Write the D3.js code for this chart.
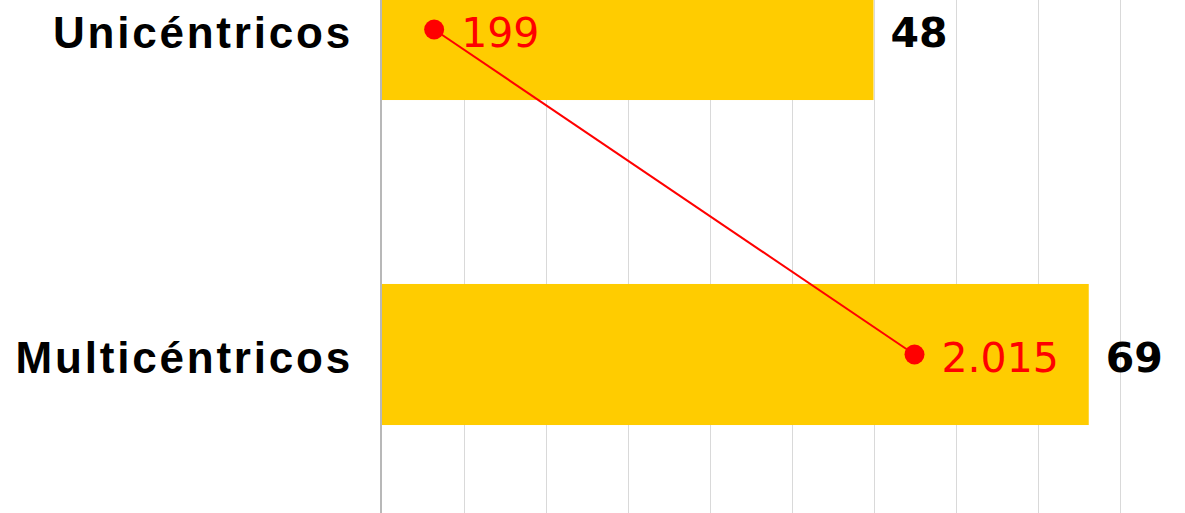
<!DOCTYPE html>
<html>
<head>
<meta charset="utf-8">
<script src="https://cdn.jsdelivr.net/npm/d3@7"></script>
<style>
  html, body { margin: 0; padding: 0; background: #ffffff; }
  svg { display: block; }
</style>
</head>
<body>
<svg id="chart" width="1185" height="513"></svg>
<script>
// Study counts by design (bars) and participants (red line)
const categories = ["Unicéntricos", "Multicéntricos"];
const studies = [48, 69];
const participants = [199, 2015];
const participantLabels = ["199", "2.015"];
const gridTicks = [0, 8, 16, 24, 32, 40, 48, 56, 64, 72, 80];

const W = 1185, H = 513;
const svg = d3.select("#chart");

const x = d3.scaleLinear().domain([0, 80]).range([381.5, 1201.5]);
const x2 = d3.scaleLinear().domain([0, 3100]).range([381.5, 1201.5]);
const y = d3.scaleBand()
  .domain(categories)
  .range([-133, 517])
  .paddingInner(0.566)
  .paddingOuter(0.283);
const mid = c => y(c) + y.bandwidth() / 2;

// vertical gridlines
svg.append("g")
  .selectAll("line")
  .data(gridTicks.filter(t => t > 0))
  .join("line")
  .attr("x1", d => Math.round(x(d)) + 0.5)
  .attr("x2", d => Math.round(x(d)) + 0.5)
  .attr("y1", 0)
  .attr("y2", H)
  .attr("stroke", "#d9d9d9")
  .attr("stroke-width", 1);

// bars
svg.append("g")
  .selectAll("rect")
  .data(categories)
  .join("rect")
  .attr("x", x(0))
  .attr("y", d => y(d))
  .attr("width", (d, i) => x(studies[i]) - x(0))
  .attr("height", y.bandwidth())
  .attr("fill", "#ffcc00");

// category axis line
svg.append("line")
  .attr("x1", 381).attr("x2", 381)
  .attr("y1", 0).attr("y2", H)
  .attr("stroke", "#b8b8b8")
  .attr("stroke-width", 2);

// category labels
svg.append("g")
  .selectAll("text")
  .data(categories)
  .join("text")
  .attr("x", 353)
  .attr("y", d => mid(d) + 18)
  .attr("text-anchor", "end")
  .attr("font-family", "'Liberation Sans', Arial, sans-serif")
  .attr("font-weight", "bold")
  .attr("font-size", 44)
  .attr("letter-spacing", "2.8px")
  .attr("fill", "#000")
  .text(d => d);

// bar value labels
svg.append("g")
  .selectAll("text")
  .data(categories)
  .join("text")
  .attr("x", (d, i) => x(studies[i]) + 17)
  .attr("y", d => mid(d) + 17)
  .attr("font-family", "'DejaVu Sans', Verdana, sans-serif")
  .attr("font-weight", "bold")
  .attr("font-size", 41)
  .attr("fill", "#000")
  .text((d, i) => studies[i]);

// participants line
const line = d3.line()
  .x(d => x2(d))
  .y((d, i) => mid(categories[i]));
svg.append("path")
  .datum(participants)
  .attr("d", line)
  .attr("fill", "none")
  .attr("stroke", "#ff0000")
  .attr("stroke-width", 2);

svg.append("g")
  .selectAll("circle")
  .data(participants)
  .join("circle")
  .attr("cx", d => x2(d))
  .attr("cy", (d, i) => mid(categories[i]))
  .attr("r", 10)
  .attr("fill", "#ff0000");

svg.append("g")
  .selectAll("text")
  .data(participants)
  .join("text")
  .attr("x", d => x2(d) + 27)
  .attr("y", (d, i) => mid(categories[i]) + 17)
  .attr("font-family", "'DejaVu Sans', Verdana, sans-serif")
  .attr("font-size", 41)
  .attr("fill", "#ff0000")
  .text((d, i) => participantLabels[i]);
</script>
</body>
</html>
